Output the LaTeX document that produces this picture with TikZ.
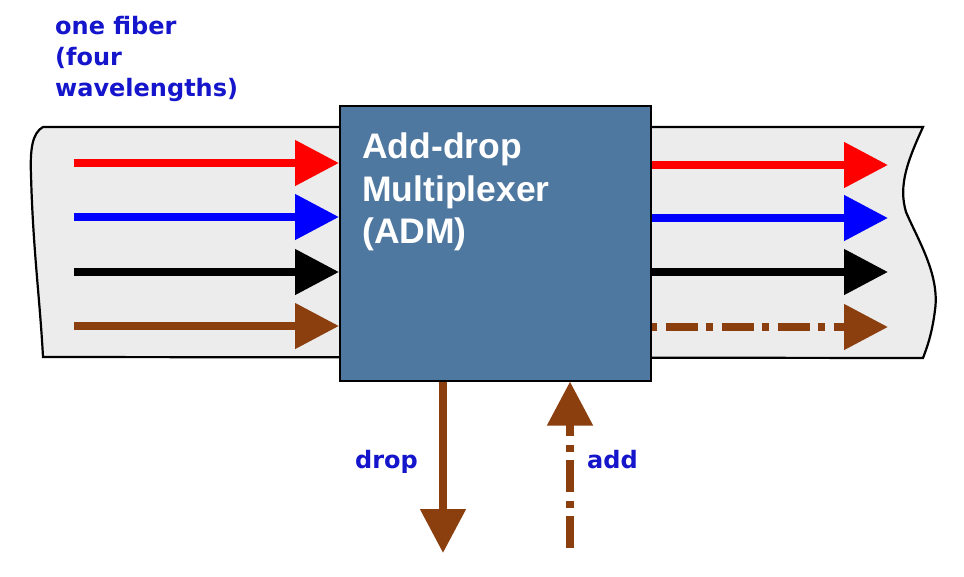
\documentclass[tikz,border=0pt]{standalone}
\usepackage{fontspec}
\newfontfamily\labfont{DejaVu Sans}
\newfontfamily\admfont{Liberation Sans}
\usetikzlibrary{arrows.meta}
\definecolor{bandgray}{HTML}{ECECEC}
\definecolor{admblue}{HTML}{4F78A0}
\definecolor{txtblue}{HTML}{1515CC}
\definecolor{wbrown}{HTML}{8B3E0E}
\definecolor{wred}{HTML}{FF0000}
\definecolor{wblue}{HTML}{0000FF}
\tikzset{
  wave/.style={line width=8pt, -{Triangle[length=44pt,width=44pt]}},
  dashdot/.style={dash pattern=on 32pt off 8pt on 7pt off 9pt},
  bluelabel/.style={font=\labfont\bfseries\fontsize{24}{31}\selectfont, text=txtblue, inner sep=0pt},
}
\begin{document}
\begin{tikzpicture}[x=1pt,y=-1pt]
\useasboundingbox[fill=white] (0,0) rectangle (964,576);
% fiber band
\path[fill=bandgray, draw=black, line width=2.2pt]
  (43,127) -- (923,127)
  .. controls (908,160) and (898,185) .. (906,212)
  .. controls (918,240) and (940,275) .. (935,310)
  .. controls (932,335) and (926,350) .. (923,358)
  -- (43,357)
  .. controls (40,300) and (33,250) .. (31,175)
  .. controls (30,150) and (32,133) .. (43,127) -- cycle;
% ADM box
\node[draw=black, line width=1.5pt, fill=admblue, minimum width=311pt, minimum height=275pt, inner sep=0pt, anchor=north west] (adm) at (339,105) {};
\node[anchor=north west, align=left, inner sep=0pt, text=white, font=\admfont\bfseries\fontsize{35.5}{42.5}\selectfont] (admlabel) at (362,133) {Add-drop\\Multiplexer\\(ADM)};
% left arrows
\coordinate (l1) at (74,163); \coordinate (l2) at (74,217);
\coordinate (l3) at (74,272); \coordinate (l4) at (74,326);
\draw[wave, wred] (l1) -- (l1 -| adm.west);
\draw[wave, wblue] (l2) -- (l2 -| adm.west);
\draw[wave, black] (l3) -- (l3 -| adm.west);
\draw[wave, wbrown] (l4) -- (l4 -| adm.west);
% right arrows
\coordinate (r1) at (888,165); \coordinate (r2) at (888,218);
\coordinate (r3) at (888,272); \coordinate (r4) at (888,327);
\draw[wave, wred] (r1 -| adm.east) -- (r1);
\draw[wave, wblue] (r2 -| adm.east) -- (r2);
\draw[wave, black] (r3 -| adm.east) -- (r3);
\draw[wave, wbrown, dashdot, dash phase=-14pt] (r4 -| adm.east) -- (r4);
% drop and add
\coordinate (dropend) at (443,553);
\coordinate (addstart) at (570,548);
\draw[wave, wbrown] (dropend |- adm.south) -- (dropend);
\draw[wave, wbrown, dashdot] (addstart) -- (addstart |- adm.south);
% labels
\node[bluelabel, anchor=north west, align=left] (fiberlabel) at (55,16) {one fiber\\(four\\wavelengths)};
\node[bluelabel, anchor=base west] (droplabel) at (355,468) {drop};
\node[bluelabel, anchor=base west] (addlabel) at (587,468) {add};
\end{tikzpicture}
\end{document}
